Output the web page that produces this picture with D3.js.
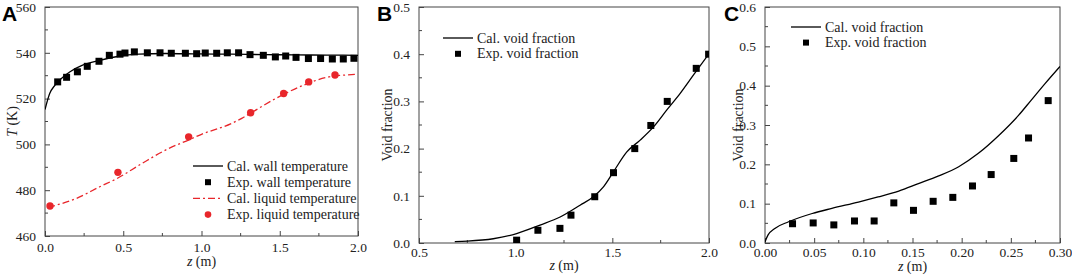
<!DOCTYPE html>
<html>
<head>
<meta charset="utf-8">
<script src="https://cdn.jsdelivr.net/npm/d3@7"></script>
<style>
  html, body { margin: 0; padding: 0; background: #fff; }
  svg { display: block; }
</style>
</head>
<body>
<svg id="chart" width="1072" height="276"></svg>
<script>
// Panel A: temperatures along z
const wallCalZ = [0, 0.03, 0.063, 0.105, 0.16, 0.24, 0.35, 0.47, 0.6, 0.77, 0.98, 1.19, 1.4, 1.6, 1.8, 2.0];
const wallCalT = [515.2, 522.2, 525.8, 528.8, 531.7, 534.6, 536.7, 538.5, 539.4, 539.7, 539.5, 539.4, 539.2, 539.1, 539.0, 538.9];
const wallExpZ = [0.081, 0.138, 0.207, 0.27, 0.345, 0.411, 0.479, 0.511, 0.571, 0.654, 0.735, 0.807, 0.897, 0.969, 1.024, 1.097, 1.165, 1.237, 1.31, 1.395, 1.472, 1.538, 1.604, 1.683, 1.761, 1.836, 1.906, 1.974];
const wallExpT = [527.3, 529.3, 531.7, 534.1, 536.3, 538.9, 539.4, 539.9, 540.4, 540.0, 540.0, 539.8, 539.8, 539.6, 539.9, 539.8, 540.0, 540.0, 539.2, 538.9, 538.2, 538.6, 538.0, 537.5, 537.5, 537.3, 537.3, 537.6];
const liqCalZ = [0.02, 0.2, 0.35, 0.46, 0.62, 0.79, 0.92, 1.0, 1.19, 1.26, 1.31, 1.5, 1.65, 1.8, 1.92, 1.98];
const liqCalT = [472.5, 476.4, 481.5, 485.1, 491.7, 498.2, 502.0, 504.4, 509.1, 511.5, 513.5, 521.0, 525.8, 529.3, 530.3, 530.6];
const liqExpZ = [0.032, 0.466, 0.918, 1.314, 1.525, 1.685, 1.853];
const liqExpT = [473.1, 487.8, 503.3, 513.8, 522.2, 527.3, 530.3];

// Panel B: void fraction, long tube
const voidBCalZ = [0.685, 0.75, 0.884, 1.005, 1.126, 1.23, 1.333, 1.402, 1.454, 1.506, 1.575, 1.644, 1.713, 1.782, 1.851, 1.92, 2.0];
const voidBCalV = [0.003, 0.004, 0.009, 0.02, 0.038, 0.055, 0.08, 0.098, 0.119, 0.151, 0.193, 0.218, 0.246, 0.282, 0.317, 0.356, 0.401];
const voidBExpZ = [1.005, 1.115, 1.229, 1.286, 1.409, 1.506, 1.616, 1.699, 1.784, 1.934, 1.998];
const voidBExpV = [0.006, 0.027, 0.031, 0.059, 0.098, 0.149, 0.2, 0.249, 0.3, 0.37, 0.4];

// Panel C: void fraction, short tube
const voidCCalZ = [0, 0.003, 0.01, 0.024, 0.048, 0.068, 0.095, 0.115, 0.136, 0.156, 0.176, 0.197, 0.217, 0.238, 0.258, 0.271, 0.285, 0.3];
const voidCCalV = [0.003, 0.02, 0.037, 0.054, 0.075, 0.088, 0.104, 0.117, 0.132, 0.151, 0.17, 0.194, 0.228, 0.274, 0.325, 0.364, 0.406, 0.449];
const voidCExpZ = [0.028, 0.049, 0.07, 0.091, 0.111, 0.131, 0.151, 0.171, 0.191, 0.211, 0.23, 0.253, 0.268, 0.288];
const voidCExpV = [0.049, 0.051, 0.046, 0.056, 0.056, 0.102, 0.083, 0.106, 0.116, 0.145, 0.174, 0.215, 0.267, 0.362];

const zip = (xs, ys) => xs.map((x, i) => [x, ys[i]]);
const RED = "#e8262b";
const AXIS = "#444";
const SERIF = "'Liberation Serif', 'Times New Roman', 'DejaVu Serif', serif";

const svg = d3.select("#chart");

function drawPanel(o) {
  const g = svg.append("g");
  const x = d3.scaleLinear().domain(o.xDomain).range([o.left, o.right]);
  const y = d3.scaleLinear().domain(o.yDomain).range([o.bottom, o.top]);

  // minor ticks
  g.selectAll("line.xminor").data(o.xMinor).enter().append("line")
    .attr("x1", d => x(d)).attr("x2", d => x(d))
    .attr("y1", o.bottom).attr("y2", o.bottom - 3)
    .attr("stroke", AXIS);
  g.selectAll("line.yminor").data(o.yMinor).enter().append("line")
    .attr("y1", d => y(d)).attr("y2", d => y(d))
    .attr("x1", o.left).attr("x2", o.left + 3)
    .attr("stroke", AXIS);

  const xAxis = g.append("g").attr("transform", `translate(0,${o.bottom})`)
    .call(d3.axisBottom(x).tickValues(o.xTicks).tickFormat(o.xFmt).tickSizeInner(-5).tickSizeOuter(0).tickPadding(o.xPad));
  const yAxis = g.append("g").attr("transform", `translate(${o.left},0)`)
    .call(d3.axisLeft(y).tickValues(o.yTicks).tickFormat(o.yFmt).tickSizeInner(-5).tickSizeOuter(0).tickPadding(9));
  [xAxis, yAxis].forEach(a => {
    a.selectAll(".domain").remove();
    a.selectAll(".tick line").attr("stroke", AXIS);
    a.selectAll("text").attr("font-size", 13.5).attr("fill", "#222");
  });

  // frame
  g.append("rect")
    .attr("x", o.left).attr("y", o.top)
    .attr("width", o.right - o.left).attr("height", o.bottom - o.top)
    .attr("fill", "none").attr("stroke", AXIS).attr("stroke-width", 1);

  const line = d3.line().x(d => x(d[0])).y(d => y(d[1])).curve(d3.curveMonotoneX);
  const clip = "clip" + o.letter;
  svg.append("clipPath").attr("id", clip).append("rect")
    .attr("x", o.left).attr("y", o.top).attr("width", o.right - o.left).attr("height", o.bottom - o.top);
  const plot = g.append("g").attr("clip-path", `url(#${clip})`);

  o.series.forEach(s => {
    if (s.type === "line") {
      plot.append("path").datum(s.data)
        .attr("fill", "none").attr("stroke", s.color).attr("stroke-width", 1.3)
        .attr("stroke-dasharray", s.dash || null)
        .attr("d", line);
    } else if (s.type === "square") {
      plot.selectAll(null).data(s.data).enter().append("rect")
        .attr("x", d => x(d[0]) - 3.5).attr("y", d => y(d[1]) - 3.5)
        .attr("width", 7).attr("height", 7).attr("fill", "#000");
    } else {
      plot.selectAll(null).data(s.data).enter().append("circle")
        .attr("cx", d => x(d[0])).attr("cy", d => y(d[1]))
        .attr("r", 3.7).attr("fill", s.color);
    }
  });

  // legend
  const lg = g.append("g");
  o.series.forEach((s, i) => {
    const ly = o.legY + i * o.legStep;
    if (s.type === "line") {
      lg.append("line").attr("x1", o.legX).attr("x2", o.legX + 30).attr("y1", ly).attr("y2", ly)
        .attr("stroke", s.color).attr("stroke-width", 1.3).attr("stroke-dasharray", s.dash || null);
    } else if (s.type === "square") {
      lg.append("rect").attr("x", o.legX + 15 - 3).attr("y", ly - 3).attr("width", 6).attr("height", 6).attr("fill", "#000");
    } else {
      lg.append("circle").attr("cx", o.legX + 15).attr("cy", ly).attr("r", 3.3).attr("fill", s.color);
    }
    lg.append("text").attr("x", o.legX + 34).attr("y", ly + 4.5)
      .attr("font-size", 14).attr("fill", "#222").text(s.label);
  });

  // axis titles
  const xt = g.append("text").attr("x", (o.left + o.right) / 2).attr("y", o.xTitleY)
    .attr("text-anchor", "middle").attr("font-size", 14).attr("fill", "#222");
  xt.append("tspan").attr("font-style", "italic").text("z");
  xt.append("tspan").text(" (m)");

  const yt = g.append("text")
    .attr("transform", `translate(${o.yTitleX},${(o.top + o.bottom) / 2}) rotate(-90)`)
    .attr("text-anchor", "middle").attr("font-size", 14).attr("fill", "#222");
  o.yTitle(yt);

  g.selectAll("text").style("font-family", SERIF);

  g.append("text").attr("x", o.letterX).attr("y", 21)
    .style("font-family", "'Liberation Sans', Arial, sans-serif").style("font-weight", "bold")
    .attr("font-size", 21).attr("fill", "#000").text(o.letter);
}

drawPanel({
  letter: "A", letterX: 2,
  left: 45, right: 358, top: 7, bottom: 236,
  xDomain: [0, 2], yDomain: [460, 560],
  xTicks: [0, 0.5, 1, 1.5, 2], xMinor: [0.25, 0.75, 1.25, 1.75], xFmt: d3.format(".1f"), xPad: 6,
  yTicks: [460, 480, 500, 520, 540, 560], yMinor: [470, 490, 510, 530, 550], yFmt: d3.format("d"),
  xTitleY: 266, yTitleX: 17,
  yTitle: t => { t.append("tspan").attr("font-style", "italic").text("T"); t.append("tspan").text(" (K)"); },
  legX: 193, legY: 166, legStep: 16.2,
  series: [
    { type: "line", color: "#000", data: zip(wallCalZ, wallCalT), label: "Cal. wall temperature" },
    { type: "square", data: zip(wallExpZ, wallExpT), label: "Exp. wall temperature" },
    { type: "line", color: RED, dash: "7,3,2,3", data: zip(liqCalZ, liqCalT), label: "Cal. liquid temperature" },
    { type: "circle", color: RED, data: zip(liqExpZ, liqExpT), label: "Exp. liquid temperature" }
  ]
});

drawPanel({
  letter: "B", letterX: 377,
  left: 419, right: 709, top: 7, bottom: 243,
  xDomain: [0.5, 2], yDomain: [0, 0.5],
  xTicks: [0.5, 1, 1.5, 2], xMinor: [0.75, 1.25, 1.75], xFmt: d3.format(".1f"), xPad: 4,
  yTicks: [0, 0.1, 0.2, 0.3, 0.4, 0.5], yMinor: [0.05, 0.15, 0.25, 0.35, 0.45], yFmt: d3.format(".1f"),
  xTitleY: 270, yTitleX: 392,
  yTitle: t => t.text("Void fraction"),
  legX: 443, legY: 38, legStep: 15.8,
  series: [
    { type: "line", color: "#000", data: zip(voidBCalZ, voidBCalV), label: "Cal. void fraction" },
    { type: "square", data: zip(voidBExpZ, voidBExpV), label: "Exp. void fraction" }
  ]
});

drawPanel({
  letter: "C", letterX: 724,
  left: 765, right: 1060, top: 7, bottom: 243,
  xDomain: [0, 0.3], yDomain: [0, 0.6],
  xTicks: [0, 0.05, 0.1, 0.15, 0.2, 0.25, 0.3], xMinor: [0.025, 0.075, 0.125, 0.175, 0.225, 0.275], xFmt: d3.format(".2f"), xPad: 4,
  yTicks: [0, 0.1, 0.2, 0.3, 0.4, 0.5, 0.6], yMinor: [0.05, 0.15, 0.25, 0.35, 0.45, 0.55], yFmt: d3.format(".1f"),
  xTitleY: 270.5, yTitleX: 743,
  yTitle: t => t.text("Void fraction"),
  legX: 791, legY: 27, legStep: 15.6,
  series: [
    { type: "line", color: "#000", data: zip(voidCCalZ, voidCCalV), label: "Cal. void fraction" },
    { type: "square", data: zip(voidCExpZ, voidCExpV), label: "Exp. void fraction" }
  ]
});
</script>
</body>
</html>
